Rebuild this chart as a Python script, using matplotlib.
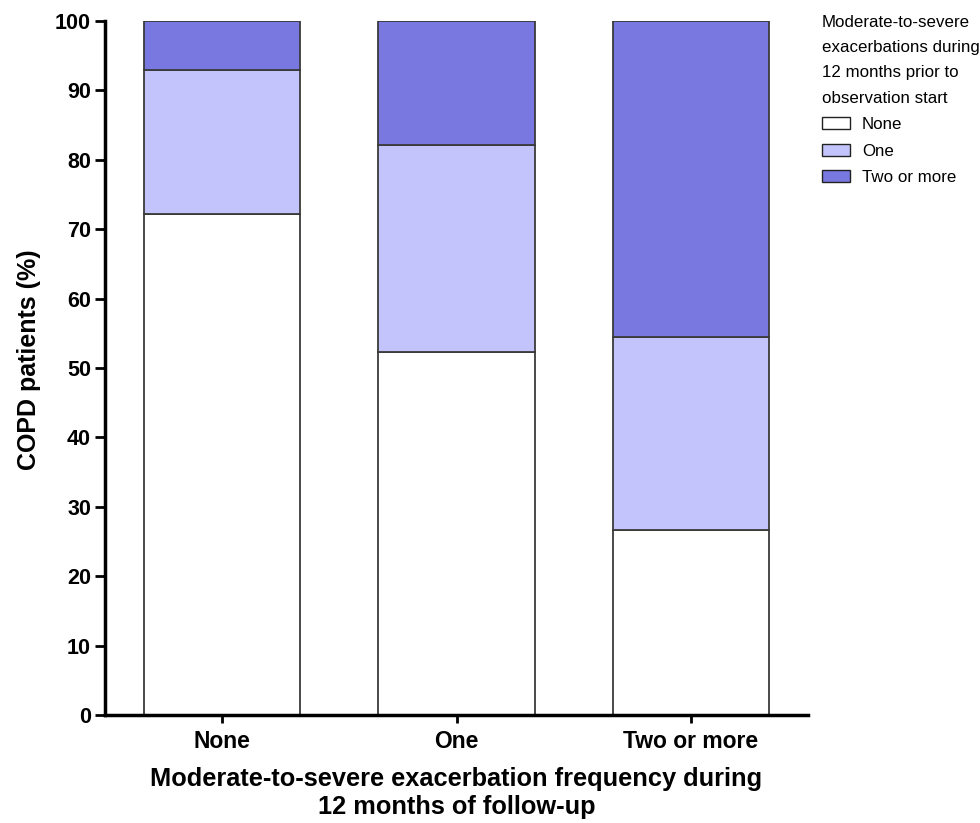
import matplotlib
matplotlib.use("Agg")
import matplotlib.pyplot as plt
import numpy as np

plt.rcParams['font.family'] = ['Liberation Sans', 'DejaVu Sans']

categories = ["None", "One", "Two or more"]
series_names = ["None", "One", "Two or more"]
none_vals = [72.2, 52.3, 26.6]
one_vals = [20.7, 29.8, 27.9]
two_vals = [7.1, 17.9, 45.5]
colors = ["#FFFFFF", "#C4C4FC", "#7878E0"]
yticks = list(range(0, 101, 10))

fig = plt.figure(figsize=(9.8, 8.23), dpi=100)
ax = fig.add_axes([105/980, 1-715/823, (808-105)/980, (715-21)/823])

x = np.arange(len(categories))
bottom = np.zeros(len(categories))
for name, vals, c in zip(series_names, [none_vals, one_vals, two_vals], colors):
    ax.bar(x, vals, width=0.667, bottom=bottom, color=c, edgecolor="#3a3a3a",
           linewidth=1.3, label=name)
    bottom += np.array(vals)

ax.set_xlim(-0.5, 2.5)
ax.set_ylim(0, 100)
ax.set_yticks(yticks)
ax.set_xticks(x)
ax.set_xticklabels(categories, fontsize=16.5, fontweight='bold')
ax.set_yticklabels([str(t) for t in yticks], fontsize=15.5, fontweight='bold')
ax.spines['top'].set_visible(False)
ax.spines['right'].set_visible(False)
ax.spines['left'].set_linewidth(2.5)
ax.spines['bottom'].set_linewidth(2.5)
ax.tick_params(axis='y', length=7, width=2, pad=3)
ax.tick_params(axis='x', length=6, width=2, pad=5)

ax.set_ylabel("COPD patients (%)", fontsize=18, fontweight='bold')
ax.yaxis.set_label_coords(-64/703, 0.512)
ax.set_xlabel("Moderate-to-severe exacerbation frequency during\n12 months of follow-up",
              fontsize=18.3, fontweight='bold', labelpad=10, linespacing=1.2)

leg = fig.legend(loc='upper left', bbox_to_anchor=(822/980, 1-15/823),
                 title="Moderate-to-severe\nexacerbations during\n12 months prior to\nobservation start",
                 fontsize=12.2, title_fontsize=12.2, frameon=False, borderpad=0,
                 handlelength=1.65, handleheight=0.7, handletextpad=0.7,
                 labelspacing=0.68, borderaxespad=0)
leg._legend_box.align = "left"
leg.get_title().set_linespacing(1.85)
for p in leg.get_patches():
    p.set_edgecolor("#222222")
    p.set_linewidth(1.0)

fig.savefig("out.png", dpi=100)
